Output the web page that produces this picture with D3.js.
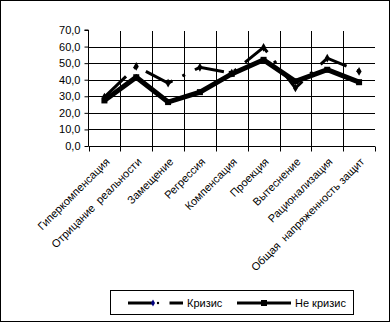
<!DOCTYPE html>
<html><head><meta charset="utf-8">
<script src="https://cdn.jsdelivr.net/npm/d3@7/dist/d3.min.js"></script>
<style>body{margin:0;background:#fff}svg{display:block;font-family:"Liberation Sans",Arial,sans-serif}</style>
</head><body><svg id="c" width="391" height="323"></svg>
<script>
const categories = ["Гиперкомпенсация","Отрицание  реальности","Замещение","Регрессия","Компенсация","Проекция","Вытеснение","Рационализация","Общая  напряженность защит"];
const crisis = [29.5, 48, 38, 47.5, 44, 59.5, 35, 53, 45];
const noCrisis = [27.5, 41.5, 26.5, 32.5, 43.5, 52, 39, 46, 38.5];
const yTicks = [0,10,20,30,40,50,60,70];
const seriesNames = ["Кризис","Не кризис"];

const svg = d3.select("#c");
svg.append("rect").attr("x",0.5).attr("y",0.5).attr("width",389).attr("height",321).attr("fill","#fff").attr("stroke","#000");

const L = 88.5, R = 375, T = 30, B = 146;
const x = d3.scaleBand().domain(categories).range([L, R]);
const y = d3.scaleLinear().domain([0,70]).range([B, T]);
const fmt = v => d3.format(".1f")(v).replace(".", ",");

// horizontal gridlines
svg.append("g").selectAll("line").data(yTicks.filter(v=>v>0 && v<70)).join("line")
  .attr("x1",L).attr("x2",R).attr("y1",d=>Math.round(y(d))+0.5).attr("y2",d=>Math.round(y(d))+0.5)
  .attr("stroke","#000").attr("stroke-width",1);
// vertical gridlines
svg.append("g").selectAll("line").data(categories.slice(1)).join("line")
  .attr("x1",d=>Math.round(x(d))+0.5).attr("x2",d=>Math.round(x(d))+0.5).attr("y1",T+1).attr("y2",B)
  .attr("stroke","#000").attr("stroke-width",1);

// y axis
const yAxis = d3.axisLeft(y).tickValues(yTicks).tickFormat(fmt).tickSize(4).tickPadding(4);
const gy = svg.append("g").attr("transform",`translate(${L},0)`).call(yAxis);
gy.select(".domain").attr("stroke","#000").attr("d",`M-4,${T}H0V${B}`);
gy.selectAll("text").attr("font-size",11).attr("fill","#000").attr("font-family","Liberation Sans, Arial, sans-serif");
gy.selectAll(".tick line").attr("stroke","#000");

// x axis
const gx = svg.append("g").attr("transform",`translate(0,${B+0.5})`);
gx.append("line").attr("x1",L).attr("x2",R).attr("stroke","#000");
const bounds = categories.map(c=>x(c)).concat([R]);
gx.selectAll("line.t").data(bounds).join("line").attr("class","t")
  .attr("x1",d=>Math.round(d)+0.5).attr("x2",d=>Math.round(d)+0.5).attr("y1",0).attr("y2",5).attr("stroke","#000");
gx.selectAll("text").data(categories).join("text")
  .attr("transform",d=>`translate(${x(d)+x.bandwidth()/2+6},${16}) rotate(-45)`)
  .attr("text-anchor","end").attr("font-size",11).attr("fill","#000")
  .style("white-space","pre").text(d=>d);

const cx = d => x(d)+x.bandwidth()/2;
const line = d3.line().x((d,i)=>cx(categories[i])).y(d=>y(d));

// Не кризис
svg.append("path").datum(noCrisis).attr("d",line).attr("fill","none").attr("stroke","#000")
  .attr("stroke-width",5).attr("stroke-linejoin","miter");
svg.append("g").selectAll("rect").data(noCrisis).join("rect")
  .attr("x",(d,i)=>cx(categories[i])-3).attr("y",d=>y(d)-3).attr("width",6).attr("height",6).attr("fill","#000");

// Кризис
svg.append("path").datum(crisis).attr("d",line).attr("fill","none").attr("stroke","#000")
  .attr("stroke-width",3).attr("stroke-dasharray","30,11,3,11").attr("stroke-linejoin","miter");
svg.append("g").selectAll("path").data(crisis).join("path")
  .attr("d",d3.symbol().type(d3.symbolDiamond).size(22))
  .attr("transform",(d,i)=>`translate(${cx(categories[i])},${y(d)})`).attr("fill","#000");

// legend
const lg = svg.append("g");
lg.append("rect").attr("x",110.5).attr("y",290.5).attr("width",243).attr("height",24).attr("fill","#fff").attr("stroke","#000");
const ly = 303;
lg.append("line").attr("x1",128).attr("x2",183).attr("y1",ly).attr("y2",ly).attr("stroke","#000").attr("stroke-width",3).attr("stroke-dasharray","24,3.5,0,6,0,8,20");
lg.append("path").attr("d",d3.symbol().type(d3.symbolDiamond).size(14)).attr("transform",`translate(153,${ly})`).attr("fill","#000080");
lg.append("circle").attr("cx",158).attr("cy",ly).attr("r",1.2).attr("fill","#000");
lg.append("text").attr("x",187).attr("y",ly+4).attr("font-size",11).text(seriesNames[0]);
lg.append("line").attr("x1",237).attr("x2",291).attr("y1",ly).attr("y2",ly).attr("stroke","#000").attr("stroke-width",3);
lg.append("rect").attr("x",261).attr("y",ly-3).attr("width",6).attr("height",6).attr("fill","#000");
lg.append("text").attr("x",295).attr("y",ly+4).attr("font-size",11).text(seriesNames[1]);
</script></body></html>
